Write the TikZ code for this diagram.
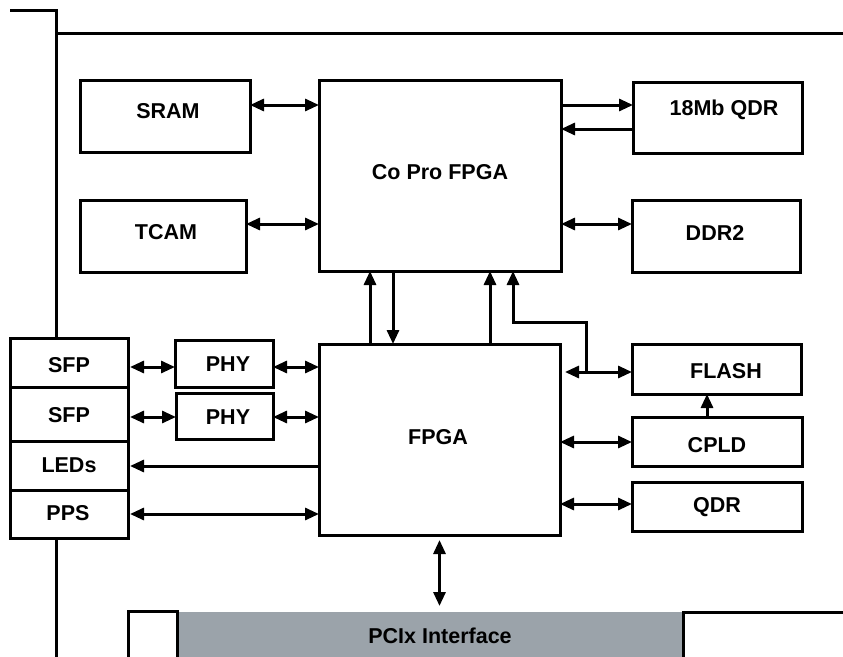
\documentclass[tikz,border=0pt]{standalone}
\usepackage{fontspec}
\setmainfont{Liberation Sans}
\usetikzlibrary{arrows.meta}
\definecolor{pcigray}{RGB}{155,163,170}
\begin{document}
\begin{tikzpicture}[x=1pt,y=-1pt,
  box/.style={draw, line width=3pt, fill=white, inner sep=0pt, outer sep=0pt, anchor=north west},
  lbl/.style={font=\bfseries\fontsize{21.5}{26}\selectfont, inner sep=0pt},
  conn/.style={line width=3pt},
  >={Triangle[length=14pt,width=12pt]}]
\useasboundingbox (0,0) rectangle (843,656);
\clip (0,0) rectangle (843,656);
% frame lines
\coordinate (f1) at (10,10);
\coordinate (f2) at (56,10);
\coordinate (f3) at (56,670);
\coordinate (f4) at (56,33);
\coordinate (f5) at (860,33);
\draw[conn] (f1) -- (f2) -- (f3);
\draw[conn] (f4) -- (f5);
% PCIx
\node[anchor=north west, fill=pcigray, minimum width=506pt, minimum height=70pt, inner sep=0pt, outer sep=0pt] (pcix) at (177,612) {};
\node[box, minimum width=49pt, minimum height=70pt] (pcl) at (128,611) {};
\node[box, minimum width=190pt, minimum height=70pt] (pcr) at (683,612) {};
\node[lbl] (tpcix) at (440,636) {PCIx Interface};
% boxes
\node[box, minimum width=170pt, minimum height=72pt] (sram) at (80,80) {};
\node[box, minimum width=166pt, minimum height=72pt] (tcam) at (80,200) {};
\node[box, minimum width=242pt, minimum height=191pt] (copro) at (319,80) {};
\node[box, minimum width=169pt, minimum height=71pt] (qdr18) at (633,82) {};
\node[box, minimum width=168pt, minimum height=72pt] (ddr2) at (632,200) {};
\node[box, minimum width=241pt, minimum height=191pt] (fpga) at (319,344) {};
\node[box, minimum width=169pt, minimum height=50pt] (flash) at (632,344) {};
\node[box, minimum width=170pt, minimum height=49pt] (cpld) at (632,417) {};
\node[box, minimum width=170pt, minimum height=49pt] (qdr) at (632,482) {};
\node[box, minimum width=118pt, minimum height=49pt] (sfp1) at (10,338) {};
\node[box, minimum width=118pt, minimum height=54pt] (sfp2) at (10,387) {};
\node[box, minimum width=118pt, minimum height=49pt] (leds) at (10,441) {};
\node[box, minimum width=118pt, minimum height=48pt] (pps) at (10,490) {};
\node[box, minimum width=98pt, minimum height=47pt] (phy1) at (175,340) {};
\node[box, minimum width=97pt, minimum height=46pt] (phy2) at (176,393) {};
% labels
\node[lbl] (tsram) at (168,111) {SRAM};
\node[lbl] (ttcam) at (166,232) {TCAM};
\node[lbl] (tcopro) at (440,172) {Co Pro FPGA};
\node[lbl] (tqdr18) at (724,110) {18Mb QDR};
\node[lbl] (tddr2) at (715,233) {DDR2};
\node[lbl] (tfpga) at (438,437) {FPGA};
\node[lbl] (tflash) at (726,371) {FLASH};
\node[lbl] (tcpld) at (717,445) {CPLD};
\node[lbl] (tqdr) at (717,507) {QDR};
\node[lbl] (tsfp1) at (69,365) {SFP};
\node[lbl] (tsfp2) at (69,415) {SFP};
\node[lbl] (tleds) at (69,465) {LEDs};
\node[lbl] (tpps) at (68,513) {PPS};
\node[lbl] (tphy1) at (228,364) {PHY};
\node[lbl] (tphy2) at (228,417) {PHY};
% connectors to Co Pro FPGA
\coordinate (a1) at ([yshift=11pt]sram.east);
\draw[conn,<->] (a1) -- (a1 -| copro.west);
\coordinate (a2) at ([yshift=12pt]tcam.east);
\draw[conn,<->] (a2) -- (a2 -| copro.west);
\coordinate (a3) at ([yshift=12.5pt]qdr18.west);
\draw[conn,->] (a3 -| copro.east) -- (a3);
\coordinate (a4) at ([yshift=-11.5pt]qdr18.west);
\draw[conn,->] (a4) -- (a4 -| copro.east);
\coordinate (a5) at ([yshift=12pt]ddr2.west);
\draw[conn,<->] (a5 -| copro.east) -- (a5);
% FPGA <-> Co Pro
\coordinate (b1) at ([xshift=-69.5pt]fpga.north);
\draw[conn,->] (b1) -- (b1 |- copro.south);
\coordinate (b2) at ([xshift=-46.5pt]fpga.north);
\draw[conn,->] (b2 |- copro.south) -- (b2);
\coordinate (b3) at ([xshift=50.5pt]fpga.north);
\draw[conn,->] (b3) -- (b3 |- copro.south);
% FLASH
\coordinate (fl) at ([yshift=-3pt]flash.west);
\draw[conn,<->] ([xshift=5pt]fl -| fpga.east) -- (fl);
\coordinate (rt0) at ([xshift=-46pt]fl);
\coordinate (rt1) at ([yshift=50pt]rt0);
\coordinate (rtx) at ([xshift=73pt]copro.south);
\draw[conn,->] (rt0) -- (rt1) -| (rtx);
% CPLD, QDR
\coordinate (c1) at ([xshift=-10pt]cpld.north);
\draw[conn,->] (c1) -- (c1 |- flash.south);
\coordinate (c2) at ([yshift=-0.5pt]cpld.west);
\draw[conn,<->] (c2 -| fpga.east) -- (c2);
\coordinate (q1) at ([yshift=2.5pt]qdr.west);
\draw[conn,<->] (q1 -| fpga.east) -- (q1);
% left side
\coordinate (s1) at ([yshift=-4.5pt]sfp1.east);
\draw[conn,<->] ([xshift=2pt]s1) -- (s1 -| phy1.west);
\draw[conn,<->] (s1 -| phy1.east) -- (s1 -| fpga.west);
\coordinate (s2) at ([yshift=-3pt]sfp2.east);
\draw[conn,<->] ([xshift=2pt]s2) -- (s2 -| phy2.west);
\draw[conn,<->] (s2 -| phy2.east) -- (s2 -| fpga.west);
\coordinate (l1) at ([yshift=-0.5pt]leds.east);
\draw[conn,->] (l1 -| fpga.west) -- ([xshift=2pt]l1);
\draw[conn,<->] ([xshift=2pt]pps.east) -- (pps.east -| fpga.west);
% PCIx connector
\draw[conn,<->,shorten <=5pt,shorten >=6pt] (fpga.south) -- (fpga.south |- pcix.north);
\end{tikzpicture}
\end{document}
